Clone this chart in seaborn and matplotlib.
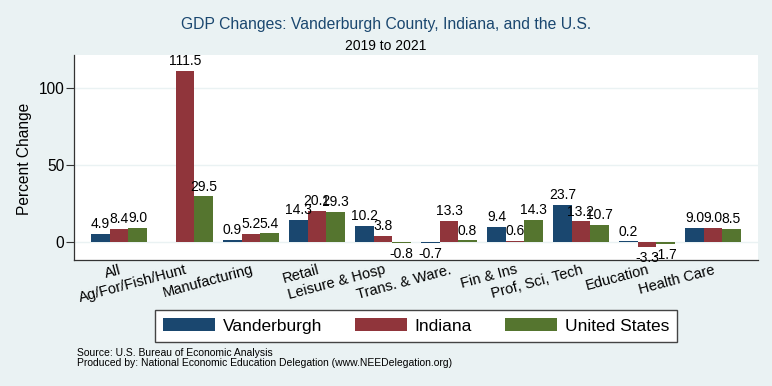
import numpy as np
import pandas as pd
import matplotlib
matplotlib.use("Agg")
import matplotlib.pyplot as plt
import seaborn as sns

categories = ["All", "Ag/For/Fish/Hunt", "Manufacturing", "Retail", "Leisure & Hosp",
              "Trans. & Ware.", "Fin & Ins", "Prof, Sci, Tech", "Education", "Health Care"]
vanderburgh = [4.9, np.nan, 0.9, 14.3, 10.2, -0.7, 9.4, 23.7, 0.2, 9.0]
indiana = [8.4, 111.5, 5.2, 20.2, 3.8, 13.3, 0.6, 13.2, -3.3, 9.0]
united_states = [9.0, 29.5, 5.4, 19.3, -0.8, 0.8, 14.3, 10.7, -1.7, 8.5]
series_names = ["Vanderburgh", "Indiana", "United States"]
yticks = [0, 50, 100]

colors = ["#1A476F", "#90353B", "#55752F"]
BG = "#EAF2F3"

plt.rcParams["font.family"] = ["Liberation Sans", "DejaVu Sans"]

rows = []
for name, vals in zip(series_names, [vanderburgh, indiana, united_states]):
    for c, v in zip(categories, vals):
        rows.append({"Industry": c, "Region": name, "Change": v})
df = pd.DataFrame(rows).dropna()

fig = plt.figure(figsize=(7.72, 3.86), dpi=100)
fig.patch.set_facecolor(BG)
ax = fig.add_axes([74 / 772, 1 - 260 / 386, 684 / 772, 205 / 386])
ax.set_facecolor("white")

sns.barplot(data=df, x="Industry", y="Change", hue="Region", order=categories,
            hue_order=series_names, palette=colors, width=0.84, linewidth=0,
            saturation=1, errorbar=None, ax=ax)

ax.set_xlim(-0.682, len(categories) - 1 + 0.682)
ax.set_ylim(-12, 121.7)
ax.set_yticks(yticks)
ax.set_yticklabels([str(t) for t in yticks], fontsize=11.2)
for t in yticks:
    ax.axhline(t, color=BG, lw=1.0, zorder=0)
ax.set_axisbelow(True)

for s in ["top", "right"]:
    ax.spines[s].set_visible(False)
for s in ["left", "bottom"]:
    ax.spines[s].set_color("#333333")
    ax.spines[s].set_linewidth(0.9)

ax.tick_params(axis="y", length=5.5, width=0.8, color="#333333", pad=1.5)
ax.tick_params(axis="x", length=0, pad=2)
ax.set_xticks(range(len(categories)))
ax.set_xticklabels(categories, rotation=15, ha="right", va="top",
                   rotation_mode="anchor", fontsize=10.5)
ax.set_xlabel("")
ax.set_ylabel("")

# value labels
for cont in ax.containers:
    for bar in cont:
        h = bar.get_height()
        if np.isnan(h):
            continue
        x = bar.get_x() + bar.get_width() / 2
        if h >= 0:
            ax.annotate(f"{h:.1f}", (x, h), xytext=(0, 2), textcoords="offset points",
                        ha="center", va="bottom", fontsize=10)
        else:
            ax.annotate(f"{h:.1f}", (x, h), xytext=(0, -3), textcoords="offset points",
                        ha="center", va="top", fontsize=10)

handles, labels = ax.get_legend_handles_labels()
if ax.get_legend() is not None:
    ax.get_legend().remove()
leg = ax.legend(handles, labels, loc="center", bbox_to_anchor=(416 / 772, 1 - 326 / 386),
                bbox_transform=fig.transFigure, ncol=3, frameon=True, fancybox=False,
                edgecolor="#444444", facecolor="white", framealpha=1,
                handlelength=3.0, handleheight=0.8, handletextpad=0.45,
                columnspacing=1.9, borderpad=0.45, fontsize=12.5)
leg.get_frame().set_linewidth(1.0)

fig.text(0.5, 1 - 28.5 / 386, "GDP Changes: Vanderburgh County, Indiana, and the U.S.",
         ha="center", va="baseline", fontsize=11.3, color="#1A476F")
fig.text(0.5, 1 - 50.5 / 386, "2019 to 2021", ha="center", va="baseline", fontsize=10)
fig.text(25 / 772, 1 - 159 / 386, "Percent Change", rotation=90, ha="center",
         va="center", fontsize=11.2)
fig.text(77 / 772, 1 - 353 / 386, "Source: U.S. Bureau of Economic Analysis",
         ha="left", va="center", fontsize=7.5)
fig.text(77 / 772, 1 - 363 / 386,
         "Produced by: National Economic Education Delegation (www.NEEDelegation.org)",
         ha="left", va="center", fontsize=7.5)

fig.savefig("out.png", dpi=100, facecolor=BG)
